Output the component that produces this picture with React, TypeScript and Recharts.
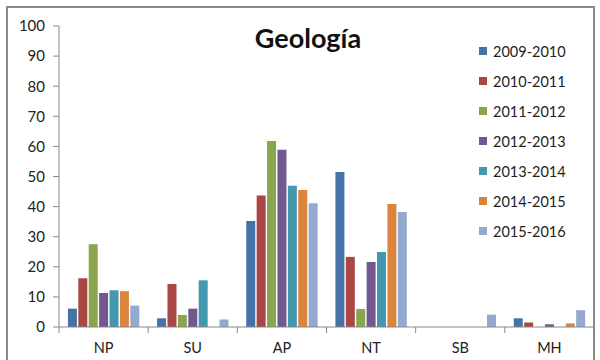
import React from 'react';
import { BarChart, Bar, XAxis, YAxis } from 'recharts';

const categories = ['NP', 'SU', 'AP', 'NT', 'SB', 'MH'];
const seriesNames = ['2009-2010', '2010-2011', '2011-2012', '2012-2013', '2013-2014', '2014-2015', '2015-2016'];
const s2009 = [6.1, 2.9, 35.2, 51.5, 0, 2.9];
const s2010 = [16.2, 14.3, 43.7, 23.3, 0, 1.5];
const s2011 = [27.5, 4.0, 61.8, 6.0, 0, 0];
const s2012 = [11.3, 6.1, 58.9, 21.6, 0, 0.9];
const s2013 = [12.2, 15.5, 46.9, 24.9, 0, 0];
const s2014 = [11.9, 0, 45.5, 40.9, 0, 1.2];
const s2015 = [7.1, 2.5, 41.1, 38.2, 4.1, 5.6];
const yTicks = [0, 10, 20, 30, 40, 50, 60, 70, 80, 90, 100];

const allSeries = [s2009, s2010, s2011, s2012, s2013, s2014, s2015];
const colors = ['#4572A7', '#AA4643', '#89A54E', '#71588F', '#4198AF', '#DB843D', '#93A9CF'];

const data = categories.map((c, i) => {
  const row: any = { name: c };
  seriesNames.forEach((s, k) => { row[s] = allSeries[k][i]; });
  return row;
});

const W = 600;
const H = 360;
const margin = { top: 26, right: 6, bottom: 3, left: 0 };
const yAxisWidth = 59;
const band = (W - margin.left - margin.right - yAxisWidth) / categories.length;
const font = 'Lato, "Open Sans", sans-serif';

function CatTick(props: any) {
  const { x, y, payload, index } = props;
  const left = x - band / 2;
  return (
    <g>
      <line x1={left} y1={y} x2={left} y2={y + 6} stroke="#888" />
      {index === categories.length - 1 && (
        <line x1={left + band} y1={y} x2={left + band} y2={y + 6} stroke="#888" />
      )}
      <text x={x} y={y + 26} textAnchor="middle" fontSize={14.5} fill="#222" fontFamily={font}>
        {payload.value}
      </text>
    </g>
  );
}

function LegendBox() {
  return (
    <div style={{ position: 'absolute', left: 479, top: 36, fontFamily: font, fontSize: 14.5, color: '#222' }}>
      {seriesNames.map((s, i) => (
        <div key={s} style={{ display: 'flex', alignItems: 'center', height: 30 }}>
          <span style={{ width: 8, height: 8, background: colors[i], display: 'inline-block', marginRight: 6 }} />
          <span>{s}</span>
        </div>
      ))}
    </div>
  );
}

export default function App() {
  return (
    <div style={{ position: 'absolute', left: 0, top: 0, width: W, height: H, background: '#fff', overflow: 'hidden' }}>
      <div style={{ position: 'absolute', left: 6, top: 6, width: 589, height: 370, border: '2px solid #8a8a8a', boxSizing: 'border-box' }} />
      <div style={{ position: 'absolute', left: 0, top: 0 }}>
        <BarChart width={W} height={H} data={data} margin={margin} barCategoryGap="10%" barGap={1.4}>
          <YAxis
            domain={[0, 100]}
            ticks={yTicks}
            width={yAxisWidth}
            tickSize={6}
            tickMargin={8}
            stroke="#888"
            tick={{ fill: '#222', fontSize: 15, fontFamily: font }}
            interval={0}
          />
          <XAxis
            dataKey="name"
            height={30}
            stroke="#888"
            tickLine={false}
            tickSize={0}
            tickMargin={0}
            tick={<CatTick />}
            interval={0}
          />
          {seriesNames.map((s, i) => (
            <Bar key={s} dataKey={s} fill={colors[i]} isAnimationActive={false} />
          ))}
        </BarChart>
      </div>
      <LegendBox />
      <div style={{ position: 'absolute', left: 208, width: 200, top: 21, textAlign: 'center', fontFamily: font, fontWeight: 'bold', fontSize: 27, color: '#111' }}>
        Geología
      </div>
    </div>
  );
}
